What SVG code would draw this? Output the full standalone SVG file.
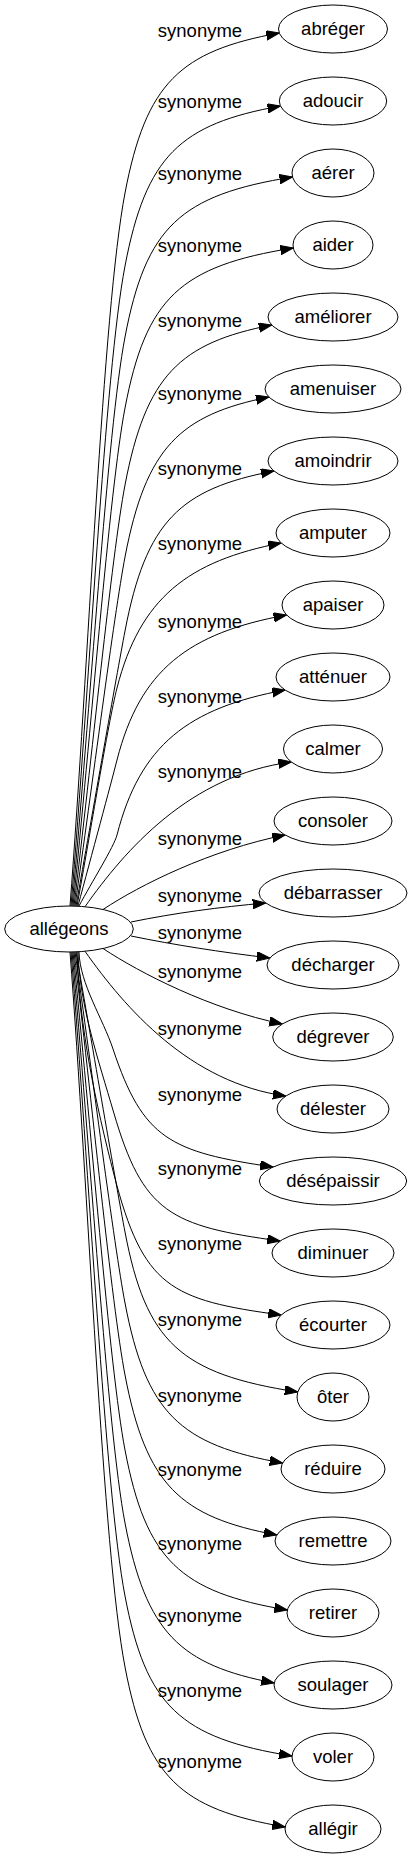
<svg xmlns="http://www.w3.org/2000/svg" width="412" height="1859" viewBox="0 0 412 1859">
<style>
text{font-family:"Liberation Sans",Arial,sans-serif;font-size:18.5px;fill:#000;text-anchor:middle}
ellipse{fill:#fff;stroke:#000;stroke-width:1}
.e path{fill:none;stroke:#000;stroke-width:1;marker-end:url(#ah)}
</style>
<defs>
<marker id="ah" markerUnits="userSpaceOnUse" markerWidth="14" markerHeight="10" refX="13" refY="4.7" orient="auto">
<path d="M0,0 L13,4.7 L0,9.4 z" fill="#000" stroke="#000" stroke-width="1"/>
</marker>
</defs>
<rect width="412" height="1859" fill="#fff"/>
<g class="e" id="edges">
<path d="M70,906 C88.3,668.3 102.7,309.7 125,193 C146,83 180,51 279.3,33"/>
<path d="M71,906 C89,692.7 104.9,370.8 125,266 C146,156 180,124 280.5,106"/>
<path d="M72,906 C89.7,716.3 107.2,430.1 125,337 C146,227 180,195 292.6,177"/>
<path d="M73,906 C90.3,740 109.4,489.5 125,408 C146,298 180,266 293.3,248"/>
<path d="M74,906 C91,765.7 111.8,553.9 125,485 C146,375 180,343 271.7,325"/>
<path d="M75,906 C91.7,789.7 114.1,614.1 125,557 C146,447 180,415 268.9,397"/>
<path d="M76,906 C92.3,814.3 116.4,676 125,631 C146,521 180,489 273.9,471"/>
<path d="M77,906 C90.3,833.3 108,723.2 117,688 C140,598 188,561 281.2,543"/>
<path d="M78,906 C91,857.3 111,783.6 117,760 C140,670 188,633 286.6,615"/>
<path d="M79,906 C91.7,882.3 114.1,846.4 117,835 C140,745 188,708 285.1,690"/>
<path d="M85,906.7 C125,850 190,775 291.4,762"/>
<path d="M103,909.5 C140,885 210,850 285.1,835"/>
<path d="M131,922 C175,913 220,907 265.7,903"/>
<path d="M131,936 C175,945 220,952 269.9,958"/>
<path d="M103,948.5 C140,973 210,1009 282.3,1024"/>
<path d="M85,951.3 C125,1008 190,1083 285.9,1096"/>
<path d="M79,952 C80,984.3 102.8,1018.3 113,1049 C143,1139 170,1152 273.1,1167"/>
<path d="M78,952 C79.6,1005.3 98.65,1060.8 113.55,1112 C143,1213 170,1226 280.2,1241"/>
<path d="M77,952 C79.2,1026.3 95.5,1103.1 114.1,1175 C143,1287 170,1300 281.2,1315"/>
<path d="M76,952 C92.3,1045.3 116.2,1186.2 125,1232 C146,1342 180,1374 297.8,1392"/>
<path d="M75,952 C91.7,1069 114,1245.6 125,1303 C146,1413 180,1445 282.7,1463"/>
<path d="M74,952 C91,1093 111.7,1305.8 125,1375 C146,1485 180,1517 276.8,1535"/>
<path d="M73,952 C90.3,1118 109.4,1368.5 125,1450 C146,1560 180,1592 287.4,1610"/>
<path d="M72,952 C89.7,1142.3 107.1,1429.5 125,1523 C146,1633 180,1665 274.2,1683"/>
<path d="M71,952 C89,1166.7 104.8,1490.6 125,1596 C146,1706 180,1738 292,1756"/>
<path d="M70,952 C88.3,1190.3 102.6,1550 125,1667 C146,1777 180,1809 285.2,1827"/>
</g>
<g id="labels">
<text x="200" y="37">synonyme</text>
<text x="200" y="108">synonyme</text>
<text x="200" y="180">synonyme</text>
<text x="200" y="252">synonyme</text>
<text x="200" y="327">synonyme</text>
<text x="200" y="400">synonyme</text>
<text x="200" y="475">synonyme</text>
<text x="200" y="550">synonyme</text>
<text x="200" y="628">synonyme</text>
<text x="200" y="703">synonyme</text>
<text x="200" y="778">synonyme</text>
<text x="200" y="845">synonyme</text>
<text x="200" y="902">synonyme</text>
<text x="200" y="938.5">synonyme</text>
<text x="200" y="978">synonyme</text>
<text x="200" y="1034.5">synonyme</text>
<text x="200" y="1101">synonyme</text>
<text x="200" y="1175">synonyme</text>
<text x="200" y="1250">synonyme</text>
<text x="200" y="1326">synonyme</text>
<text x="200" y="1402">synonyme</text>
<text x="200" y="1476">synonyme</text>
<text x="200" y="1550">synonyme</text>
<text x="200" y="1622">synonyme</text>
<text x="200" y="1697">synonyme</text>
<text x="200" y="1768">synonyme</text>
</g>
<g id="n_src"><ellipse cx="69" cy="929" rx="64.3" ry="23"/><text x="69" y="935">allégeons</text></g>
<g id="n0"><ellipse cx="333" cy="29" rx="54.5" ry="24"/><text x="333" y="35">abréger</text></g>
<g id="n1"><ellipse cx="333" cy="101" rx="53.7" ry="24"/><text x="333" y="107">adoucir</text></g>
<g id="n2"><ellipse cx="333" cy="173" rx="41" ry="24"/><text x="333" y="179">aérer</text></g>
<g id="n3"><ellipse cx="333" cy="245" rx="40" ry="24"/><text x="333" y="251">aider</text></g>
<g id="n4"><ellipse cx="333" cy="317" rx="65" ry="24"/><text x="333" y="323">améliorer</text></g>
<g id="n5"><ellipse cx="333" cy="389" rx="68" ry="24"/><text x="333" y="395">amenuiser</text></g>
<g id="n6"><ellipse cx="333" cy="461" rx="65" ry="24"/><text x="333" y="467">amoindrir</text></g>
<g id="n7"><ellipse cx="333" cy="533" rx="57" ry="24"/><text x="333" y="539">amputer</text></g>
<g id="n8"><ellipse cx="333" cy="605" rx="51" ry="24"/><text x="333" y="611">apaiser</text></g>
<g id="n9"><ellipse cx="333" cy="677" rx="57" ry="24"/><text x="333" y="683">atténuer</text></g>
<g id="n10"><ellipse cx="333" cy="749" rx="49.5" ry="24"/><text x="333" y="755">calmer</text></g>
<g id="n11"><ellipse cx="333" cy="821" rx="59" ry="24"/><text x="333" y="827">consoler</text></g>
<g id="n12"><ellipse cx="333" cy="893" rx="74" ry="24"/><text x="333" y="899">débarrasser</text></g>
<g id="n13"><ellipse cx="333" cy="965" rx="66" ry="24"/><text x="333" y="971">décharger</text></g>
<g id="n14"><ellipse cx="333" cy="1037" rx="60.3" ry="24"/><text x="333" y="1043">dégrever</text></g>
<g id="n15"><ellipse cx="333" cy="1109" rx="56" ry="24"/><text x="333" y="1115">délester</text></g>
<g id="n16"><ellipse cx="333" cy="1181" rx="73.7" ry="24"/><text x="333" y="1187">désépaissir</text></g>
<g id="n17"><ellipse cx="333" cy="1253" rx="61" ry="24"/><text x="333" y="1259">diminuer</text></g>
<g id="n18"><ellipse cx="333" cy="1325" rx="57" ry="24"/><text x="333" y="1331">écourter</text></g>
<g id="n19"><ellipse cx="333" cy="1397" rx="36" ry="24"/><text x="333" y="1403">ôter</text></g>
<g id="n20"><ellipse cx="333" cy="1469" rx="52" ry="24"/><text x="333" y="1475">réduire</text></g>
<g id="n21"><ellipse cx="333" cy="1541" rx="58" ry="24"/><text x="333" y="1547">remettre</text></g>
<g id="n22"><ellipse cx="333" cy="1613" rx="46" ry="24"/><text x="333" y="1619">retirer</text></g>
<g id="n23"><ellipse cx="333" cy="1685" rx="59" ry="24"/><text x="333" y="1691">soulager</text></g>
<g id="n24"><ellipse cx="333" cy="1757" rx="41" ry="24"/><text x="333" y="1763">voler</text></g>
<g id="n25"><ellipse cx="333" cy="1829" rx="48" ry="24"/><text x="333" y="1835">allégir</text></g>
</svg>
